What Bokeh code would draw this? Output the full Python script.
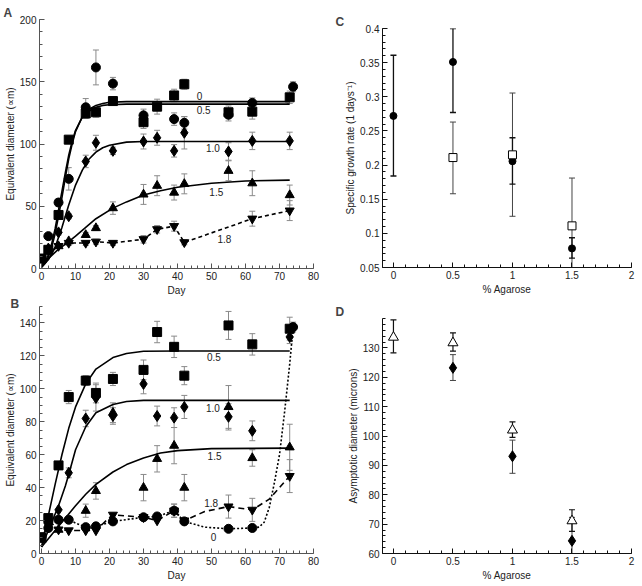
from bokeh.plotting import figure
from bokeh.models import (Range1d, FixedTicker, NumeralTickFormatter,
                          Whisker, TeeHead, ColumnDataSource)
from bokeh.layouts import column, row
from bokeh.embed import file_html
from bokeh.resources import INLINE

FONT = "Liberation Sans"

# ---------------- Panel A data (day, diameter, error) ----------------
A_circle_day = [2, 5, 8, 13, 16, 21, 30, 39, 42, 55, 62, 74]
A_circle_val = [26, 53, 72, 129.5, 161.5, 148.5, 123, 120, 117, 123.5, 133, 146]
A_circle_err = [0, 3, 9, 7, 14, 5, 5, 5, 5, 5, 4, 4]

A_square_day = [0, 2, 5, 8, 13, 16, 21, 30, 34, 39, 42, 55, 62, 73]
A_square_val = [8, 15, 43, 103.5, 124.5, 125.5, 134.5, 117.5, 130, 139, 148, 125.5, 126, 137.5]
A_square_err = [0, 0, 2, 3, 4, 4, 3, 5, 6, 5, 4, 5, 6, 5]

A_diamond_day = [2, 5, 8, 13, 16, 21, 30, 34, 39, 42, 55, 62, 73]
A_diamond_val = [16, 29, 42, 86, 101, 94.5, 102, 105, 94.5, 109, 94, 102.5, 102.5]
A_diamond_err = [0, 2, 2, 5, 6, 3, 6, 6, 5, 13, 7, 7, 7]

A_tri_day = [5, 8, 13, 16, 21, 30, 34, 39, 42, 55, 62, 73]
A_tri_val = [18, 22, 27, 32.5, 48.5, 59.5, 66.5, 61, 68, 78.5, 68.5, 59]
A_tri_err = [0, 0, 2, 2, 5, 8, 8, 6, 8, 8, 10, 8]

A_dtri_day = [0, 5, 8, 13, 16, 21, 30, 34, 39, 42, 62, 73]
A_dtri_val = [8, 18, 20.5, 20.5, 21.5, 20.5, 23.5, 31.5, 34, 21, 40, 46.5]
A_dtri_err = [0, 0, 2, 2, 2, 2, 3, 3, 4, 2, 6, 8]

# fitted curves of panel A
A_fit0_day = [0, 1, 2, 3, 4, 5, 6, 7, 8, 9, 10, 12, 14, 16, 18, 20, 25, 73]
A_fit0_val = [1, 4, 9, 17, 28, 42, 57, 73, 88, 100, 110, 122, 128, 131, 132.5, 133.5, 134, 134]
A_fit05_day = [0, 1, 2, 3, 4, 5, 6, 7, 8, 9, 10, 12, 14, 16, 18, 20, 25, 73]
A_fit05_val = [1.5, 5, 11, 20, 32, 47, 62, 77, 91, 102, 111, 121.5, 126.5, 129.5, 131, 131.5, 132, 132]
A_fit10_day = [0, 2, 4, 6, 8, 10, 12, 14, 16, 18, 20, 25, 30, 73]
A_fit10_val = [1, 7, 17, 33, 51, 67, 79, 88, 93.5, 97, 99, 101.5, 102, 102]
A_fit15_day = [0, 2, 5, 8, 10, 13, 16, 21, 25, 30, 35, 40, 50, 60, 73]
A_fit15_val = [3, 8, 15.5, 21.5, 26, 33, 40, 48.5, 53.5, 59, 62.5, 65.3, 68.5, 70.3, 71]

A_lab_text = ["0", "0.5", "1.0", "1.5", "1.8"]
A_lab_day = [46.5, 47.7, 50.4, 51.4, 53.8]
A_lab_val = [138.6, 127.2, 96.6, 61.7, 24]

# ---------------- Panel B data ----------------
B_square_day = [0, 2, 5, 8, 13, 16, 21, 30, 34, 39, 42, 55, 62, 73]
B_square_val = [9.5, 21.5, 53.5, 95, 105, 97.5, 106, 111.5, 134.5, 125.5, 108, 138.5, 127, 136.5]
B_square_err = [0, 0, 0, 4, 3, 6, 4, 6, 6.5, 6.5, 5.5, 8.5, 6.5, 7]

B_diamond_day = [2, 5, 8, 13, 16, 21, 30, 34, 39, 42, 55, 62, 73]
B_diamond_val = [16, 26.5, 49, 82, 94.5, 83.5, 103, 83.5, 82.5, 89, 83, 74.5, 131.5]
B_diamond_err = [0, 0, 3, 5, 8, 5, 6, 6, 6, 7, 8, 6, 4]

B_tri_day = [5, 13, 16, 21, 30, 34, 39, 42, 55, 62, 73]
B_tri_val = [14.5, 26, 38, 85.5, 40, 57.5, 65.5, 40, 89, 58, 64.5]
B_tri_err = [0, 4, 5, 6, 8, 8, 11, 8, 13, 5, 14]

B_dtri_day = [0, 2, 5, 8, 13, 16, 21, 30, 34, 39, 42, 55, 62, 73]
B_dtri_val = [10, 17, 14.5, 14, 14, 14, 23.5, 22, 20, 26, 20, 28.5, 26.5, 47]
B_dtri_err = [0, 0, 0, 0, 0, 0, 0, 0, 0, 4, 0, 7, 7, 10]

B_circle_day = [0, 2, 5, 8, 13, 16, 21, 30, 34, 39, 42, 55, 62, 74]
B_circle_val = [10, 15.5, 20.5, 20.5, 16, 16.5, 19.5, 22, 22.5, 26, 19.5, 15, 15.5, 137.5]
B_circle_err = [0, 0, 0, 0, 0, 0, 0, 0, 0, 4, 0, 0, 0, 3]

# smooth curves of panel B
B_fit05_day = [0, 2, 4, 6, 8, 10, 13, 16, 21, 25, 30, 40, 73]
B_fit05_val = [4, 23, 42, 60, 76, 89, 103, 112, 119, 121.5, 122.8, 123, 123]
B_fit10_day = [0, 2, 5, 7, 8, 10, 13, 16, 21, 25, 30, 73]
B_fit10_val = [4, 14, 29, 41, 48, 63, 77, 85.5, 90.5, 92.3, 93, 93]
B_fit15_day = [0, 2, 5, 8, 10, 13, 16, 21, 25, 30, 35, 40, 50, 73]
B_fit15_val = [4, 9, 16.5, 24, 29, 36, 42, 49.5, 54, 58, 61, 62.5, 63.7, 64]
B_curve0_day = [0, 2, 5, 8, 10, 13, 16, 21, 30, 34, 39, 42, 48, 55, 62, 64, 65.5, 67, 68.5, 70, 71.5, 73, 74]
B_curve0_val = [10, 15.5, 20.5, 20.5, 18.5, 16, 16.5, 19.5, 22, 22.5, 26, 19.5, 16, 15, 15.5, 16, 19, 28, 43, 60, 86, 115, 137.5]
B_curve18_day = [0, 2, 5, 8, 13, 16, 19, 21, 30, 34, 39, 42, 48, 55, 62, 67, 73]
B_curve18_val = [10, 17, 14.5, 14, 14, 14, 20, 23.5, 22, 20, 26, 20, 25.5, 28.5, 26.5, 33, 47]

B_lab_text = ["0.5", "1.0", "1.5", "1.8", "0"]
B_lab_day = [50.7, 50.4, 50.9, 49.9, 50.6]
B_lab_val = [119.3, 88.6, 59.5, 30.9, 10.2]

# ---------------- Panel C data ----------------
C_circle_x = [0, 0.5, 1, 1.5]
C_circle_y = [0.272, 0.351, 0.2056, 0.078]
C_circle_lo = [0.184, 0.277, 0.172, 0.0637]
C_circle_hi = [0.3608, 0.40, 0.240, 0.0936]
C_square_x = [0.5, 1, 1.5]
C_square_y = [0.211, 0.215, 0.111]
C_square_lo = [0.158, 0.125, 0.04]
C_square_hi = [0.263, 0.3055, 0.181]

# ---------------- Panel D data ----------------
D_tri_x = [0, 0.5, 1, 1.5]
D_tri_y = [133.6, 131.7, 102, 71.1]
D_tri_lo = [128.3, 128.9, 99.5, 67.5]
D_tri_hi = [139.5, 135.1, 104.8, 74.9]
D_dia_x = [0.5, 1, 1.5]
D_dia_y = [123.2, 93.1, 64.3]
D_dia_lo = [118.9, 87.3, 56.5]
D_dia_hi = [127.7, 98.6, 72.3]

# ---------------- ticks ----------------
A_xticks = [0, 10, 20, 30, 40, 50, 60, 70, 80]
A_yticks = [0, 50, 100, 150, 200]
B_yticks = [0, 20, 40, 60, 80, 100, 120, 140]
C_xticks = [0, 0.5, 1, 1.5, 2]
C_yticks = [0.05, 0.1, 0.15, 0.2, 0.25, 0.3, 0.35, 0.4]
D_yticks = [60, 70, 80, 90, 100, 110, 120, 130]


def minors(major, n, extra_end=None):
    out = []
    step = (major[1] - major[0]) / n
    end = major[-1] if extra_end is None else extra_end
    i = 0
    while major[0] + i * step <= end + 1e-9:
        out.append(round(major[0] + i * step, 6))
        i += 1
    return out


def make_fig(w, h, xr, yr, bl, br, bt, bb, axis_color, title, toff, tstand=0):
    p = figure(width=w, height=h, x_range=Range1d(*xr), y_range=Range1d(*yr),
               output_backend="svg", toolbar_location=None, sizing_mode="fixed",
               min_border_left=bl, min_border_right=br,
               min_border_top=bt, min_border_bottom=bb)
    p.xgrid.visible = False
    p.ygrid.visible = False
    p.outline_line_color = None
    p.title.text = title
    p.title.text_font = FONT
    p.title.text_font_size = "12px"
    p.title.text_font_style = "bold"
    p.title.align = "left"
    p.title.offset = toff
    try:
        p.title.standoff = tstand
    except Exception:
        p.title.standoff = 0
    for ax in (p.xaxis[0], p.yaxis[0]):
        ax.axis_line_color = axis_color
        ax.major_tick_line_color = axis_color
        ax.minor_tick_line_color = axis_color
        ax.major_tick_in = 5
        ax.major_tick_out = 0
        ax.minor_tick_in = 3
        ax.minor_tick_out = 0
        ax.major_label_text_font = FONT
        ax.major_label_text_font_size = "10px"
        ax.major_label_text_color = "#222222"
        ax.axis_label_text_font = FONT
        ax.axis_label_text_font_size = "10px"
        ax.axis_label_text_font_style = "normal"
        ax.axis_label_text_color = "#222222"
    p.yaxis[0].major_label_standoff = 3
    p.yaxis[0].axis_label_standoff = 1
    p.xaxis[0].major_label_standoff = 3
    p.xaxis[0].axis_label_standoff = 2
    return p


def add_err(p, xs, ys, errs, color, width=1):
    bx, lo, hi = [], [], []
    for x, y, e in zip(xs, ys, errs):
        if e > 0:
            bx.append(x)
            lo.append(y - e)
            hi.append(y + e)
    add_err_lohi(p, bx, lo, hi, color, width)


def add_err_lohi(p, xs, lo, hi, color, width=1):
    src = ColumnDataSource(dict(x=xs, lo=lo, hi=hi))
    w = Whisker(source=src, base="x", lower="lo", upper="hi", line_color=color,
                line_width=width,
                lower_head=TeeHead(size=6, line_color=color, line_width=width),
                upper_head=TeeHead(size=6, line_color=color, line_width=width))
    p.add_layout(w)


def curve_labels(p, texts, xs, ys):
    src = ColumnDataSource(dict(x=xs, y=ys, t=texts))
    p.text(x="x", y="y", text="t", source=src, text_font_size="10px",
           text_align="center", text_baseline="middle", text_color="#222222",
           text_font={"value": FONT})


ERR = "#8a8a8a"

# ---------------- Panel A ----------------
pA = make_fig(330, 298, (-0.6, 80), (0, 200), 39, 17, 19, 30, "#555555", "A", -36)
pA.xaxis.ticker = FixedTicker(ticks=A_xticks, minor_ticks=minors(A_xticks, 5))
pA.yaxis.ticker = FixedTicker(ticks=A_yticks, minor_ticks=minors(A_yticks, 5))
pA.xaxis.axis_label = "Day"
pA.yaxis.axis_label = "Equivalent diameter (\u221dm)"
for d, v, e in [(A_circle_day, A_circle_val, A_circle_err),
                (A_square_day, A_square_val, A_square_err),
                (A_diamond_day, A_diamond_val, A_diamond_err),
                (A_tri_day, A_tri_val, A_tri_err),
                (A_dtri_day, A_dtri_val, A_dtri_err)]:
    add_err(pA, d, v, e, ERR)
for d, v in [(A_fit0_day, A_fit0_val), (A_fit05_day, A_fit05_val),
             (A_fit10_day, A_fit10_val), (A_fit15_day, A_fit15_val)]:
    pA.line(d, v, line_color="black", line_width=1.6)
pA.line(A_dtri_day, A_dtri_val, line_color="black", line_width=1.6, line_dash="4 3")
pA.scatter(A_circle_day, A_circle_val, marker="circle", size=9, color="black")
pA.scatter(A_square_day, A_square_val, marker="square", size=9, color="black")
pA.scatter(A_diamond_day, A_diamond_val, marker="diamond", size=11, color="black")
pA.scatter(A_tri_day, A_tri_val, marker="triangle", size=9, color="black")
pA.scatter(A_dtri_day, A_dtri_val, marker="inverted_triangle", size=9, color="black")
curve_labels(pA, A_lab_text, A_lab_day, A_lab_val)

# ---------------- Panel B ----------------
pB = make_fig(330, 286, (-0.6, 80), (0, 150), 39, 17, 7, 31, "#555555", "B", -29, -8)
pB.xaxis.ticker = FixedTicker(ticks=A_xticks, minor_ticks=minors(A_xticks, 5))
pB.yaxis.ticker = FixedTicker(ticks=B_yticks, minor_ticks=minors(B_yticks, 4, 150))
pB.xaxis.axis_label = "Day"
pB.yaxis.axis_label = "Equivalent diameter (\u221dm)"
for d, v, e in [(B_circle_day, B_circle_val, B_circle_err),
                (B_square_day, B_square_val, B_square_err),
                (B_diamond_day, B_diamond_val, B_diamond_err),
                (B_tri_day, B_tri_val, B_tri_err),
                (B_dtri_day, B_dtri_val, B_dtri_err)]:
    add_err(pB, d, v, e, ERR)
for d, v in [(B_fit05_day, B_fit05_val), (B_fit10_day, B_fit10_val),
             (B_fit15_day, B_fit15_val)]:
    pB.line(d, v, line_color="black", line_width=1.6)
pB.line(B_curve0_day, B_curve0_val, line_color="black", line_width=1.6, line_dash="2 2")
pB.line(B_curve18_day, B_curve18_val, line_color="black", line_width=1.6, line_dash="6 4")
pB.scatter(B_square_day, B_square_val, marker="square", size=9, color="black")
pB.scatter(B_diamond_day, B_diamond_val, marker="diamond", size=11, color="black")
pB.scatter(B_tri_day, B_tri_val, marker="triangle", size=9, color="black")
pB.scatter(B_dtri_day, B_dtri_val, marker="inverted_triangle", size=9, color="black")
pB.scatter(B_circle_day, B_circle_val, marker="circle", size=9, color="black")
curve_labels(pB, B_lab_text, B_lab_day, B_lab_val)

# ---------------- Panel C ----------------
pC = make_fig(310, 298, (-0.092, 2.0), (0.05, 0.4), 52, 9, 28, 31, "#111111", "C", -47)
pC.xaxis.ticker = FixedTicker(ticks=C_xticks, minor_ticks=minors(C_xticks, 5))
pC.yaxis.ticker = FixedTicker(ticks=C_yticks, minor_ticks=minors(C_yticks, 5))
pC.xaxis.formatter = NumeralTickFormatter(format="0.[0]")
pC.yaxis.formatter = NumeralTickFormatter(format="0.[00]")
pC.xaxis.axis_label = "% Agarose"
pC.yaxis.axis_label = "Specific growth rate (1 days\u207b\u00b9)"
add_err_lohi(pC, C_square_x, C_square_lo, C_square_hi, "#444444")
add_err_lohi(pC, C_circle_x, C_circle_lo, C_circle_hi, "#111111", 1.3)
pC.scatter(C_circle_x, C_circle_y, marker="circle", size=7, color="black")
pC.scatter(C_square_x, C_square_y, marker="square", size=8, fill_color="white",
           line_color="black", line_width=1)

# ---------------- Panel D ----------------
pD = make_fig(310, 286, (-0.092, 2.0), (60, 140), 52, 9, 20, 31, "#111111", "D", -47)
pD.xaxis.ticker = FixedTicker(ticks=C_xticks, minor_ticks=minors(C_xticks, 5))
pD.yaxis.ticker = FixedTicker(ticks=D_yticks, minor_ticks=minors(D_yticks, 5, 140))
pD.xaxis.formatter = NumeralTickFormatter(format="0.[0]")
pD.xaxis.axis_label = "% Agarose"
pD.yaxis.axis_label = "Asymptotic diameter (microns)"
add_err_lohi(pD, D_dia_x, D_dia_lo, D_dia_hi, "#444444")
add_err_lohi(pD, D_tri_x, D_tri_lo, D_tri_hi, "#111111", 1.2)
pD.scatter(D_dia_x, D_dia_y, marker="diamond", size=11, color="black")
pD.scatter(D_tri_x, D_tri_y, marker="triangle", size=10, fill_color="white",
           line_color="black", line_width=1)

layout = row(column(pA, pB, sizing_mode="fixed"), column(pC, pD, sizing_mode="fixed"),
             sizing_mode="fixed")

with open("out.html", "w") as f:
    f.write(file_html(layout, INLINE))
